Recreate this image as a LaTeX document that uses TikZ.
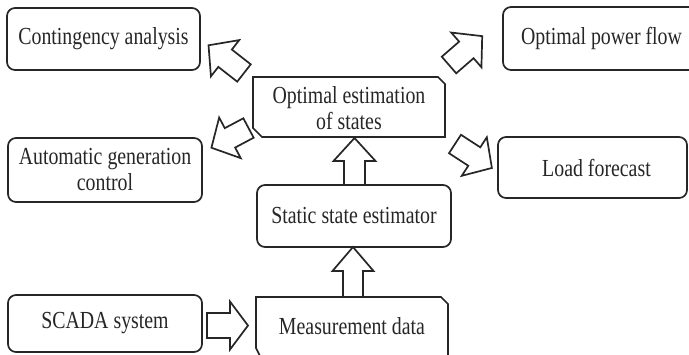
\documentclass[tikz,border=0pt]{standalone}
\usepackage{fontspec}
\setmainfont[FakeStretch=0.81]{Liberation Serif}
\begin{document}
\begin{tikzpicture}[x=1pt,y=-1pt,
  line width=1.7pt, line join=miter,
  txt/.style={font=\fontsize{24.5}{26}\selectfont, text=black!85, align=center, inner sep=0pt},
  rbox/.style={draw=black!85, rounded corners=8pt, txt, inner sep=0pt},
  cbox/.style={draw=black!85},
  arrowline/.style={draw=black!85, fill=white, line width=1.7pt},
  pics/barrow/.style n args={4}{code={
    \draw[arrowline] (0,-#4) -- ({#1-#2},-#4) -- ({#1-#2},-#3) -- (#1,0)
      -- ({#1-#2},#3) -- ({#1-#2},#4) -- (0,#4) -- cycle;}}
]
\useasboundingbox (0,0) rectangle (689,354);
\clip (0,0) rectangle (689,354);

% rounded boxes
\node[rbox, minimum width=193pt, minimum height=62pt] (cont) at (103.5,39) {Contingency analysis};
\node[rbox, minimum width=197pt, minimum height=63pt] (opf) at (601.5,38.5) {Optimal power flow};
\node[rbox, minimum width=194pt, minimum height=64pt] (agc) at (105,170) {Automatic generation\\control};
\node[rbox, minimum width=189pt, minimum height=61pt] (lf) at (592.5,167.5) {\hspace*{8pt}Load forecast};
\node[rbox, minimum width=194pt, minimum height=62pt] (sse) at (354,216) {Static state estimator};
\node[rbox, minimum width=194pt, minimum height=57pt] (scada) at (105,323.5) {SCADA system};

% chamfered boxes
\coordinate (oe1) at (253,77);
\coordinate (oe2) at (445,137);
\draw[cbox] (253,77) -- (438,77) -- (445,84) -- (445,137) -- (262,137) -- (253,128) -- cycle;
\node[txt] (ose) at (349,108) {Optimal estimation\\of states};

\draw[cbox] (256,297) -- (441,297) -- (448,304) -- (448,362) -- (263,362) -- (256,348) -- cycle;
\node[txt] (md) at (352,326) {Measurement data};

% block arrows
\pic[rotate=0] at (207,325.5) {barrow={41}{18}{24}{12.5}};
\pic[rotate=90] at (353,297) {barrow={50}{24}{20.5}{10}};
\pic[rotate=90] at (354.5,185) {barrow={47}{23}{21}{10.5}};
\pic[rotate=142] at (244,73) {barrow={45}{21}{23}{11}};
\pic[rotate=208] at (248.5,128) {barrow={42}{21}{23}{11}};
\pic[rotate=41] at (449,65) {barrow={44}{21}{23}{11}};
\pic[rotate=-33] at (455,144) {barrow={44}{21}{23}{11}};
\end{tikzpicture}
\end{document}
